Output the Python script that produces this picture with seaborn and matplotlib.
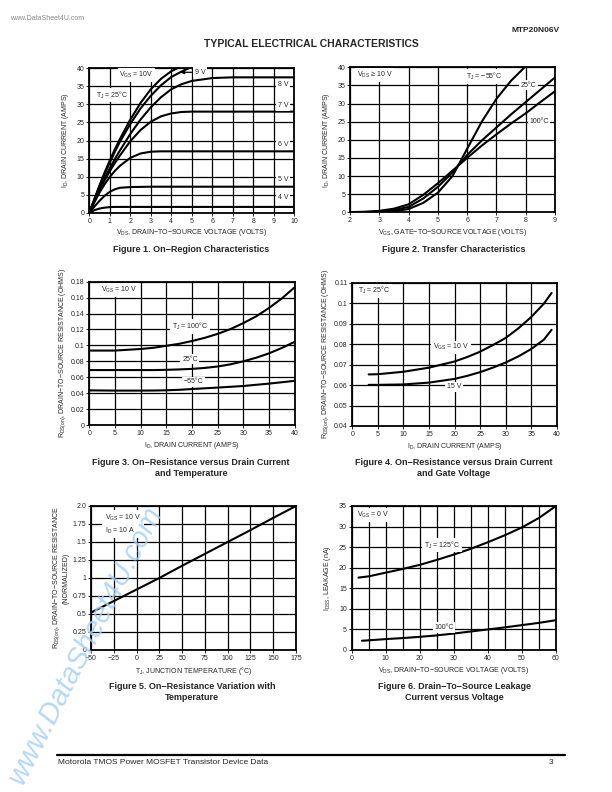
import numpy as np
import pandas as pd
import matplotlib
matplotlib.use("Agg")
import matplotlib.pyplot as plt
from matplotlib.lines import Line2D
import seaborn as sns

# ---- Figure 1: on-region characteristics (ID vs VDS for several VGS)
ON_VDS = [0, 0.25, 0.5, 0.75, 1, 1.25, 1.5, 2, 2.5, 3, 3.5, 4, 4.5, 5, 6, 7, 8, 10]
ON_VGS_LABELS = ["10 V", "9 V", "8 V", "7 V", "6 V", "5 V", "4 V"]
ON_ID_10V = [0, 3.8, 7.6, 11.2, 14.5, 17.6, 20.5, 25.8, 30.4, 34.2, 37.1, 39.2, 40.6, None, None, None, None, None]
ON_ID_9V = [0, 3.7, 7.3, 10.7, 13.9, 16.9, 19.7, 24.6, 28.9, 32.4, 35.3, 37.6, 39.1, 40.4, None, None, None, None]
ON_ID_8V = [0, 3.4, 6.6, 9.6, 12.3, 14.9, 17.3, 21.8, 25.8, 29.2, 32.0, 34.2, 35.6, 36.5, 37.3, 37.5, 37.5, 37.5]
ON_ID_7V = [0, 3.3, 6.3, 9.0, 11.5, 13.8, 15.9, 19.8, 22.9, 25.2, 26.7, 27.5, 27.9, 28.0, 28.0, 28.0, 28.0, 28.0]
ON_ID_6V = [0, 2.9, 5.6, 7.9, 9.9, 11.6, 13.0, 15.2, 16.4, 16.9, 17.0, 17.0, 17.0, 17.0, 17.0, 17.0, 17.0, 17.0]
ON_ID_5V = [0, 1.7, 3.3, 4.7, 5.8, 6.5, 6.9, 7.1, 7.15, 7.2, 7.2, 7.2, 7.2, 7.2, 7.2, 7.2, 7.2, 7.2]
ON_ID_4V = [0, 0.7, 1.15, 1.4, 1.55, 1.6, 1.6, 1.6, 1.6, 1.6, 1.6, 1.6, 1.6, 1.6, 1.6, 1.6, 1.6, 1.6]

# ---- Figure 2: transfer characteristics
TR_VGS = [2, 2.5, 3, 3.5, 4, 4.5, 5, 5.5, 6, 6.5, 7, 7.5, 8, 8.5, 9]
TR_ID_M55 = [0, 0.02, 0.1, 0.3, 0.9, 2.6, 5.4, 10.0, 17.5, 25.0, 31.3, 36.3, 40.3, None, None]
TR_ID_25 = [0, 0.05, 0.2, 0.6, 1.5, 3.8, 7.0, 11.0, 15.8, 19.8, 23.4, 27.0, 30.4, 33.8, 37.2]
TR_ID_100 = [0.05, 0.15, 0.4, 1.0, 2.2, 4.8, 8.0, 11.5, 15.0, 18.4, 21.5, 24.5, 27.3, 30.4, 33.4]

# ---- Figure 3: on-resistance vs drain current and temperature
RT_ID = [0, 5, 10, 12.5, 15, 17.5, 20, 22.5, 25, 27.5, 30, 32.5, 35, 37.5, 40]
RT_R_100 = [0.0935, 0.0935, 0.0955, 0.097, 0.0995, 0.102, 0.1055, 0.1095, 0.1145, 0.1205, 0.128, 0.1365, 0.147, 0.159, 0.173]
RT_R_25 = [0.069, 0.069, 0.069, 0.069, 0.0693, 0.0698, 0.0705, 0.0717, 0.0735, 0.0762, 0.080, 0.0845, 0.090, 0.0968, 0.1045]
RT_R_M55 = [0.0435, 0.0432, 0.0432, 0.0433, 0.0436, 0.0442, 0.0452, 0.0461, 0.047, 0.048, 0.049, 0.0505, 0.052, 0.0537, 0.0555]

# ---- Figure 4: on-resistance vs drain current and gate voltage
RG_ID = [3.2, 5, 10, 15, 20, 22.5, 25, 27.5, 30, 32.5, 35, 37.5, 39]
RG_R_10V = [0.0652, 0.0653, 0.0665, 0.0685, 0.0715, 0.0737, 0.0763, 0.0795, 0.0830, 0.0877, 0.0932, 0.0998, 0.1050]
RG_R_15V = [0.0601, 0.0601, 0.0603, 0.0612, 0.0630, 0.0645, 0.0663, 0.0685, 0.0710, 0.0740, 0.0776, 0.0822, 0.0870]

# ---- Figure 5: normalized on-resistance vs temperature
NT_TJ = [-50, -25, 0, 25, 50, 75, 100, 125, 150, 175]
NT_R = [0.52, 0.68, 0.84, 1.0, 1.17, 1.335, 1.5, 1.665, 1.835, 2.0]

# ---- Figure 6: drain-to-source leakage
LK_VDS_125 = [2, 5, 10, 15, 20, 25, 30, 35, 40, 45, 50, 55, 60]
LK_I_125 = [17.6, 17.9, 18.8, 19.7, 20.7, 21.9, 23.2, 24.6, 26.2, 27.9, 29.8, 32.1, 35.0]
LK_VDS_100 = [3, 5, 10, 15, 20, 25, 30, 35, 40, 45, 50, 55, 60]
LK_I_100 = [2.25, 2.35, 2.65, 2.9, 3.2, 3.55, 4.0, 4.5, 5.0, 5.5, 6.05, 6.6, 7.25]

W, H = 612, 792

sns.set_style("white")
plt.rcParams["font.family"] = ["Liberation Sans", "DejaVu Sans"]
plt.rcParams["mathtext.fontset"] = "custom"
plt.rcParams["mathtext.rm"] = "Liberation Sans"
plt.rcParams["mathtext.it"] = "Liberation Sans"
plt.rcParams["axes.unicode_minus"] = True

fig = plt.figure(figsize=(W / 100, H / 100), dpi=100)


def px_axes(l, t, r, b):
    return fig.add_axes([l / W, 1 - b / H, (r - l) / W, (b - t) / H])


def ptext(x, y, s, **kw):
    fig.text(x / W, 1 - y / H, s, **kw)


def style(ax, xlim, ylim, xmaj, ymaj, xmin, ymin, xlabels=None, ylabels=None):
    ax.set_xlim(*xlim)
    ax.set_ylim(*ylim)
    ax.set_xticks(xmaj)
    ax.set_yticks(ymaj)
    ax.set_xticks(xmin, minor=True)
    ax.set_yticks(ymin, minor=True)
    if xlabels is not None:
        ax.set_xticklabels(xlabels)
    if ylabels is not None:
        ax.set_yticklabels(ylabels)
    ax.grid(True, which="both", color="black", linewidth=0.9)
    ax.set_axisbelow(True)
    for sp in ax.spines.values():
        sp.set_linewidth(1.3)
        sp.set_color("black")
    ax.tick_params(which="major", direction="out", length=2, width=0.7,
                   labelsize=5, pad=1.5, bottom=True, left=True)
    ax.tick_params(which="minor", length=0)


def curve(ax, x, y):
    d = pd.DataFrame({"x": x, "y": pd.to_numeric(pd.Series(y), errors="coerce")}).dropna()
    sns.lineplot(data=d, x="x", y="y", ax=ax, color="black", linewidth=1.5,
                 estimator=None, sort=False)
    ax.set_xlabel("")
    ax.set_ylabel("")


def label(ax, x, y, s, ha="center"):
    ax.text(x, y, s, fontsize=5, ha=ha, va="center", zorder=4,
            bbox=dict(facecolor="white", edgecolor="none", pad=1.2))


box = dict(facecolor="white", edgecolor="none", pad=1.2)

# ---------------- Figure 1
ax1 = px_axes(89.3, 68.3, 294.3, 212.7)
for ys in [ON_ID_10V, ON_ID_9V, ON_ID_8V, ON_ID_7V, ON_ID_6V, ON_ID_5V, ON_ID_4V]:
    curve(ax1, ON_VDS, ys)
style(ax1, (0, 10), (0, 40), range(0, 11), range(0, 41, 5), [], [])
label(ax1, 2.3, 38.2, r"V$_{\mathrm{GS}}$ = 10V")
label(ax1, 1.1, 32.6, r"T$_{\mathrm{J}}$ = 25°C")
ax1.annotate("9 V", xy=(4.42, 38.9), xytext=(5.15, 38.9), fontsize=5, ha="left", va="center",
             bbox=box, arrowprops=dict(arrowstyle="-|>,head_length=0.45,head_width=0.2",
                                       color="black", lw=0.9, shrinkA=1, shrinkB=0))
for s, yv in zip(ON_VGS_LABELS[2:], [35.6, 29.6, 19.0, 9.2, 4.2]):
    label(ax1, 9.45, yv, s)
ax1.set_xlabel(r"V$_{\mathrm{DS}}$, DRAIN−TO−SOURCE VOLTAGE (VOLTS)", fontsize=5, labelpad=2)
ax1.set_ylabel(r"I$_{\mathrm{D}}$, DRAIN CURRENT (AMPS)", fontsize=5, labelpad=4)

# ---------------- Figure 2
ax2 = px_axes(350, 67.3, 555, 212.3)
for ys in [TR_ID_M55, TR_ID_25, TR_ID_100]:
    curve(ax2, TR_VGS, ys)
style(ax2, (2, 9), (0, 40), range(2, 10), range(0, 41, 5), [], [])
label(ax2, 2.85, 37.9, r"V$_{\mathrm{DS}}$ ≥ 10 V")
label(ax2, 6.6, 37.4, r"T$_{\mathrm{J}}$ = −55°C")
label(ax2, 8.1, 35.1, "25°C")
label(ax2, 8.45, 25.0, "100°C")
ax2.set_xlabel(r"V$_{\mathrm{GS}}$, GATE−TO−SOURCE VOLTAGE (VOLTS)", fontsize=5, labelpad=2)
ax2.set_ylabel(r"I$_{\mathrm{D}}$, DRAIN CURRENT (AMPS)", fontsize=5, labelpad=4)

# ---------------- Figure 3
ax3 = px_axes(89.3, 281.7, 294.7, 425)
for ys in [RT_R_100, RT_R_25, RT_R_M55]:
    curve(ax3, RT_ID, ys)
style(ax3, (0, 40), (0, 0.18), range(0, 41, 5), np.arange(0, 0.181, 0.02), [], [],
      ylabels=["0", "0.02", "0.04", "0.06", "0.08", "0.1", "0.12", "0.14", "0.16", "0.18"])
label(ax3, 5.8, 0.1695, r"V$_{\mathrm{GS}}$ = 10 V")
label(ax3, 19.6, 0.1235, r"T$_{\mathrm{J}}$ = 100°C")
label(ax3, 19.6, 0.0825, "25°C")
label(ax3, 20.2, 0.0544, "−55°C")
ax3.set_xlabel(r"I$_{\mathrm{D}}$, DRAIN CURRENT (AMPS)", fontsize=5, labelpad=2)
ax3.set_ylabel(r"R$_{\mathrm{DS(on)}}$, DRAIN−TO−SOURCE RESISTANCE (OHMS)", fontsize=5, labelpad=2)

# ---------------- Figure 4
ax4 = px_axes(352.3, 282.7, 556.7, 426)
for ys in [RG_R_10V, RG_R_15V]:
    curve(ax4, RG_ID, ys)
style(ax4, (0, 40), (0.04, 0.11), range(0, 41, 5), np.arange(0.04, 0.1101, 0.01), [], [],
      ylabels=["0.04", "0.05", "0.06", "0.07", "0.08", "0.09", "0.1", "0.11"])
label(ax4, 4.3, 0.106, r"T$_{\mathrm{J}}$ = 25°C")
label(ax4, 19.3, 0.0784, r"V$_{\mathrm{GS}}$ = 10 V")
label(ax4, 19.9, 0.0592, "15 V")
ax4.set_xlabel(r"I$_{\mathrm{D}}$, DRAIN CURRENT (AMPS)", fontsize=5, labelpad=2)
ax4.set_ylabel(r"R$_{\mathrm{DS(on)}}$, DRAIN−TO−SOURCE RESISTANCE (OHMS)", fontsize=5, labelpad=2)

# ---------------- Figure 5
ax5 = px_axes(91, 506, 296, 650)
curve(ax5, NT_TJ, NT_R)
style(ax5, (-50, 175), (0, 2.0), range(-50, 176, 25), np.arange(0, 2.01, 0.25), [], [],
      xlabels=["−50", "−25", "0", "25", "50", "75", "100", "125", "150", "175"],
      ylabels=["0", "0.25", "0.5", "0.75", "1", "1.25", "1.5", "1.75", "2.0"])
ax5.text(-35, 1.745, "V$_{\\mathrm{GS}}$ = 10 V\nI$_{\\mathrm{D}}$ = 10 A", fontsize=5,
         ha="left", va="center", zorder=4, linespacing=1.3,
         bbox=dict(facecolor="white", edgecolor="none", pad=2))
ax5.set_xlabel(r"T$_{\mathrm{J}}$, JUNCTION TEMPERATURE (°C)", fontsize=5, labelpad=2)
ax5.set_ylabel("R$_{\\mathrm{DS(on)}}$, DRAIN−TO−SOURCE RESISTANCE\n(NORMALIZED)",
               fontsize=5, labelpad=2, linespacing=1.1)

# ---------------- Figure 6
ax6 = px_axes(351.7, 506, 556, 650)
curve(ax6, LK_VDS_125, LK_I_125)
curve(ax6, LK_VDS_100, LK_I_100)
style(ax6, (0, 60), (0, 35), range(0, 61, 10), range(0, 36, 5), range(5, 60, 10), [])
label(ax6, 6.2, 32.8, r"V$_{\mathrm{GS}}$ = 0 V")
label(ax6, 26.6, 25.5, r"T$_{\mathrm{J}}$ = 125°C")
label(ax6, 27.1, 5.5, "100°C")
ax6.set_xlabel(r"V$_{\mathrm{DS}}$, DRAIN−TO−SOURCE VOLTAGE (VOLTS)", fontsize=5, labelpad=2)
ax6.set_ylabel(r"I$_{\mathrm{DSS}}$, LEAKAGE (nA)", fontsize=5, labelpad=4)

# ---------------- captions and page text
cap = dict(fontsize=6.5, fontweight="bold", ha="center", va="center", linespacing=1.25)
ptext(191, 249, "Figure 1. On−Region Characteristics", **cap)
ptext(454, 249, "Figure 2. Transfer Characteristics", **cap)
ptext(191, 468, "Figure 3. On−Resistance versus Drain Current\nand Temperature", **cap)
ptext(454, 468, "Figure 4. On−Resistance versus Drain Current\nand Gate Voltage", **cap)
ptext(192, 692, "Figure 5. On−Resistance Variation with\nTemperature", **cap)
ptext(454, 692, "Figure 6. Drain−To−Source Leakage\nCurrent versus Voltage", **cap)

ptext(311, 44, "TYPICAL ELECTRICAL CHARACTERISTICS", fontsize=7.5, fontweight="bold",
      ha="center", va="center")
ptext(560, 30, "MTP20N06V", fontsize=6, fontweight="bold", ha="right", va="center")
ptext(10, 18, "www.DataSheet4U.com", fontsize=5, color="#888888", ha="left", va="center")

fig.add_artist(Line2D([57 / W, 565 / W], [1 - 755 / H, 1 - 755 / H], color="black", linewidth=1.6))
ptext(58, 762, "Motorola TMOS Power MOSFET Transistor Device Data", fontsize=6, ha="left", va="center")
ptext(553, 762, "3", fontsize=6, ha="right", va="center")

ptext(85, 645, "www.DataSheet4U.com", fontsize=21, style="italic", color="#a9d1f7",
      alpha=0.85, rotation=63, rotation_mode="anchor", ha="center", va="center", zorder=10)

fig.savefig("out.png", dpi=100, facecolor="white")
